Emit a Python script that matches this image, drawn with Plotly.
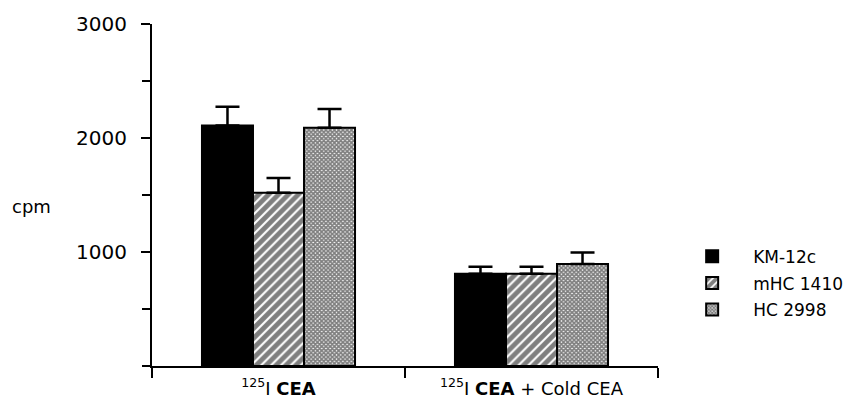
import plotly.graph_objects as go

# Binding of labelled CEA by three cell lines
categories = ["<sup>125</sup>I <b>CEA</b>", "<sup>125</sup>I <b>CEA</b> + Cold CEA"]
series_names = ["KM-12c", "mHC 1410", "HC 2998"]
km12c = [2110, 810]
mhc1410 = [1520, 810]
hc2998 = [2090, 895]
km12c_err = [165, 60]
mhc1410_err = [130, 60]
hc2998_err = [165, 100]

y_tickvals = [1000, 2000, 3000]
y_ticktext = ["1000", "2000", "3000"]

FONT = "DejaVu Sans"

patterns = [
    dict(shape=""),
    dict(shape="/", fgcolor="black", bgcolor="white", size=7, solidity=0.7),
    dict(shape="x", fgcolor="black", bgcolor="white", size=3, solidity=0.8),
]

fig = go.Figure()
for name, vals, errs, pat in zip(series_names,
                                 [km12c, mhc1410, hc2998],
                                 [km12c_err, mhc1410_err, hc2998_err],
                                 patterns):
    fig.add_trace(go.Bar(
        name=name,
        x=categories,
        y=vals,
        legendgroup=name,
        marker=dict(color="black" if pat["shape"] == "" else "white",
                    line=dict(color="black", width=2),
                    pattern=pat),
        error_y=dict(type="data", array=errs, arrayminus=[0] * len(errs),
                     symmetric=False, color="black", thickness=2.5, width=12),
    ))

fig.update_layout(
    width=863, height=411,
    margin=dict(l=152, r=205, t=19, b=42),
    paper_bgcolor="white", plot_bgcolor="white",
    barmode="group", bargap=0.395, bargroupgap=0,
    font=dict(family=FONT, color="black", size=16),
    showlegend=True,
    legend=dict(x=1.026, y=0.372, xanchor="left", yanchor="top",
                font=dict(family=FONT, size=17), itemwidth=72,
                tracegroupgap=1.5, bgcolor="rgba(0,0,0,0)"),
    xaxis=dict(range=[-0.5, 1.5], showline=True, linecolor="black",
               linewidth=2, tickson="boundaries", ticks="outside",
               ticklen=10, tickwidth=2, tickcolor="black", showgrid=False,
               zeroline=False, ticklabelstandoff=5,
               tickfont=dict(family=FONT, size=18)),
    yaxis=dict(range=[0, 3000], showline=True, linecolor="black",
               linewidth=2, tickvals=y_tickvals, ticktext=y_ticktext,
               ticks="outside", ticklen=9, tickwidth=2, tickcolor="black",
               minor=dict(dtick=500, ticks="outside", ticklen=8,
                          tickwidth=2, tickcolor="black", showgrid=False),
               showgrid=False, zeroline=False, ticklabelstandoff=10,
               tickfont=dict(family=FONT, size=20)),
    annotations=[dict(text="cpm", xref="paper", yref="paper",
                      x=(31 - 152) / 506, y=(369 - 206) / 350,
                      xanchor="center", yanchor="middle", showarrow=False,
                      font=dict(family=FONT, size=18))],
)

fig.write_html("out.html")
